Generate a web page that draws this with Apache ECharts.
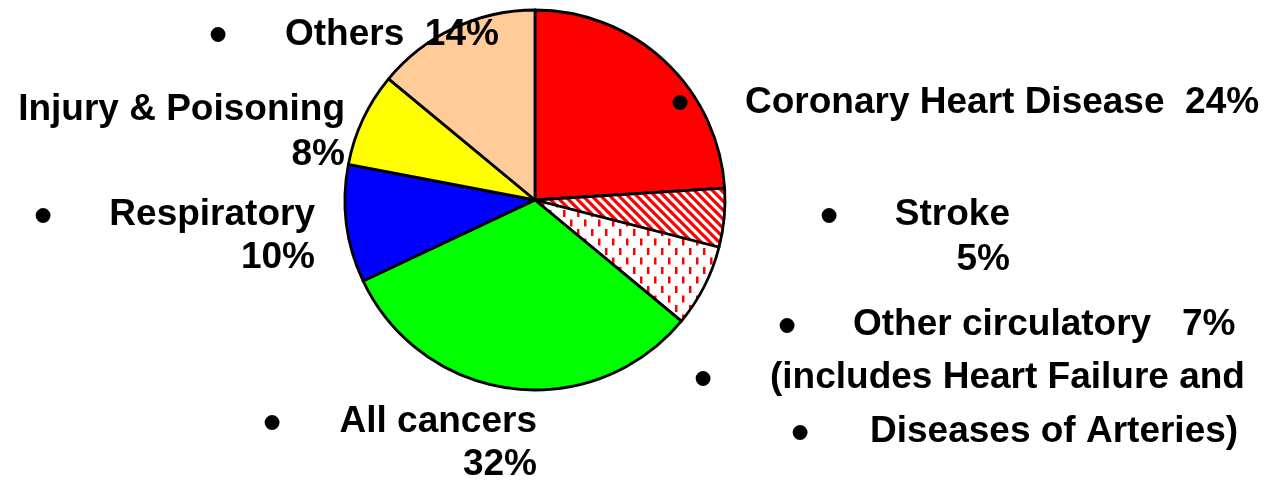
<!DOCTYPE html>
<html>
<head>
<meta charset="utf-8">
<script src="https://cdn.jsdelivr.net/npm/echarts@6/dist/echarts.min.js"></script>
<style>
  html, body { margin: 0; padding: 0; background: #fff; }
  #chart { width: 1279px; height: 482px; }
</style>
</head>
<body>
<div id="chart"></div>
<script>
const categories = ["Coronary Heart Disease", "Stroke", "Other circulatory", "All cancers", "Respiratory", "Injury & Poisoning", "Others"];
const shares = [24, 5, 7, 32, 10, 8, 14];
const sliceColors = ["#ff0000", "stripes", "dashes", "#00ff00", "#0000ff", "#ffff00", "#ffcc99"];

// label lines: [text, x, y, align]
const labelLines = [
    ["Others  14%", 285, 35, "left"],
    ["Injury & Poisoning", 345, 110, "right"],
    ["8%", 345, 155, "right"],
    ["Respiratory", 315, 215, "right"],
    ["10%", 315, 258, "right"],
    ["Coronary Heart Disease  24%", 745, 103, "left"],
    ["Stroke", 1010, 215, "right"],
    ["5%", 1010, 260, "right"],
    ["Other circulatory   7%", 853, 325, "left"],
    ["(includes Heart Failure and", 770, 378, "left"],
    ["Diseases of Arteries)", 870, 432, "left"],
    ["All cancers", 537, 422, "right"],
    ["32%", 537, 465, "right"]
];
const bullets = [[218, 38], [43, 219], [680, 106], [829, 219], [787, 329], [703, 382], [800, 436], [272, 426]];

function stripePattern() {
    const s = 9;
    const c = document.createElement("canvas");
    c.width = s; c.height = s;
    const g = c.getContext("2d");
    g.fillStyle = "#fff";
    g.fillRect(0, 0, s, s);
    g.strokeStyle = "#ff0000";
    g.lineWidth = 3.2;
    g.beginPath();
    g.moveTo(-s, -s); g.lineTo(2 * s, 2 * s);
    g.moveTo(-s, 0); g.lineTo(s, 2 * s);
    g.moveTo(0, -s); g.lineTo(2 * s, s);
    g.stroke();
    return {image: c, repeat: "repeat"};
}

function dashPattern() {
    const c = document.createElement("canvas");
    c.width = 14; c.height = 19;
    const g = c.getContext("2d");
    g.fillStyle = "#fff";
    g.fillRect(0, 0, 14, 19);
    g.fillStyle = "#ff0000";
    g.fillRect(3, 1, 2.5, 7);
    g.fillRect(10, 10.5, 2.5, 7);
    return {image: c, repeat: "repeat"};
}

const chart = echarts.init(document.getElementById("chart"));
const fills = sliceColors.map(c => c === "stripes" ? stripePattern() : c === "dashes" ? dashPattern() : c);

const font = {fontFamily: "Liberation Sans, Arial, sans-serif", fontWeight: "bold", fontSize: 37, fill: "#000"};

const graphics = labelLines.map(([t, x, y, a]) => ({
    type: "text", x: x, y: y, z: 100,
    style: Object.assign({text: t, align: a, verticalAlign: "middle"}, font)
})).concat(bullets.map(([x, y]) => ({
    type: "text", x: x, y: y, z: 100,
    style: Object.assign({}, font, {text: "\u2022", align: "center", verticalAlign: "middle", fontSize: 52})
})));

chart.setOption({
    animation: false,
    series: [{
        type: "pie",
        center: [535, 200],
        radius: 190,
        startAngle: 90,
        clockwise: true,
        z: 2,
        label: {show: false},
        labelLine: {show: false},
        emphasis: {disabled: true},
        itemStyle: {borderColor: "#000", borderWidth: 2.8},
        data: categories.map((n, i) => ({name: n, value: shares[i], itemStyle: {color: fills[i]}}))
    }],
    graphic: graphics
});
</script>
</body>
</html>
